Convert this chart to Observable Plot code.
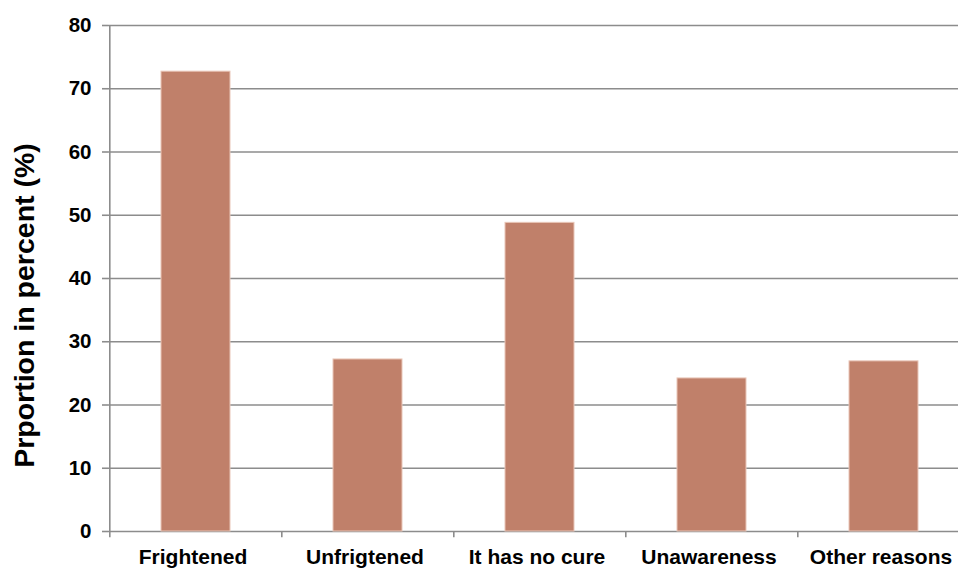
<!DOCTYPE html>
<html>
<head>
<meta charset="utf-8">
<script src="https://cdn.jsdelivr.net/npm/d3@7"></script>
<script src="https://cdn.jsdelivr.net/npm/@observablehq/plot@0.6"></script>
<style>
  html, body { margin: 0; padding: 0; background: #fff; }
  #chart { width: 958px; height: 569px; overflow: hidden; position: relative; }
  #chart svg { display: block; max-width: none !important; }
</style>
</head>
<body>
<div id="chart"></div>
<script>
const categories = ["Frightened", "Unfrigtened", "It has no cure", "Unawareness", "Other reasons"];
const values = [72.7, 27.2, 48.8, 24.2, 26.9];
const yTicks = [0, 10, 20, 30, 40, 50, 60, 70, 80];
const yLabel = "Prportion in percent (%)";

const data = categories.map((c, i) => ({category: c, value: values[i]}));

const W = 970, H = 569, mL = 108, mR = 0, mT = 25, mB = 38;
const step = (W - mL - mR) / categories.length;
const gridColor = "#8c8c8c";
const font = "'Liberation Sans', Arial, sans-serif";

const chart = Plot.plot({
  width: W,
  height: H,
  marginLeft: mL,
  marginRight: mR,
  marginTop: mT,
  marginBottom: mB,
  style: {fontFamily: font, fontWeight: "bold", fontSize: "20px", color: "#000", background: "#fff", maxWidth: "none"},
  x: {domain: categories, paddingInner: 0.6, paddingOuter: 0.3, label: null},
  y: {domain: [0, 80], label: null},
  marks: [
    Plot.gridY(yTicks, {stroke: gridColor, strokeOpacity: 1, strokeWidth: 1.6}),
    Plot.ruleX([0], {x: () => categories[0], dx: -step / 2, y1: 0, y2: 80, stroke: gridColor, strokeWidth: 1.6}),
    Plot.ruleX(categories, {x: d => d, dx: -step / 2, y1: 0, y2: -1, stroke: gridColor, strokeWidth: 1.6}),
    Plot.barY(data, {x: "category", y: "value", fill: "#c0806a", stroke: "#e9c6b8", strokeWidth: 1}),
    Plot.axisY(yTicks, {tickSize: 6, tickPadding: 11, stroke: gridColor, strokeWidth: 1.6, label: null, fontSize: 20.5, fontWeight: "bold", fill: "#000"}),
    Plot.axisX({tickSize: 0, tickPadding: 18, label: null, fontSize: 21, fontWeight: "bold", fill: "#000", dx: -3}),
    Plot.text([yLabel], {frameAnchor: "left", text: d => d, rotate: -90, dx: -84, dy: 27, fontSize: 28.5, fontWeight: "bold", fill: "#000", textAnchor: "middle"})
  ]
});

document.getElementById("chart").appendChild(chart);
</script>
</body>
</html>
